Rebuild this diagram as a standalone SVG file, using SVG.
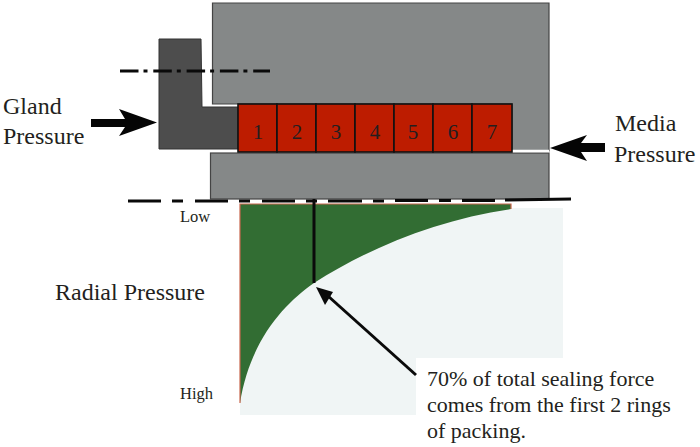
<svg xmlns="http://www.w3.org/2000/svg" width="700" height="447" viewBox="0 0 700 447">
<style>
text{font-family:"Liberation Serif","Times New Roman",serif;fill:#231f20}
.lbl{font-size:24px}
.rad{font-size:24px}
.sm{font-size:16.500px}
.note{font-size:22px}
.num{font-size:21px;text-anchor:middle}
.body{fill:#858888;stroke:#444;stroke-width:1.2}
.ring{fill:#bd1c00;stroke:#111;stroke-width:1.6}
</style>
<rect width="700" height="447" fill="#fff"/>
<g id="chart">
<path d="M240,208H563V358H416V415H240Z" fill="#f0f5f5"/>
<path d="M240,403C250,340 285,303 314,283C370,247 440,219 511,209V204H240Z" fill="#326d33"/>
<path d="M240,403V204H511V209" fill="none" stroke="#c8674f" stroke-width="1.2"/>
</g>
<g id="housing"><path class="body" d="M212.500,3H549V151H512V104H212.500Z"/></g>
<g id="gland"><path d="M159,39H201L202,107H238V149H159Z" fill="#4d4d4d" stroke="#333" stroke-width="1"/></g>
<g id="stem"><rect class="body" x="210.500" y="153" width="338.500" height="46"/></g>
<path d="M512,151H549" stroke="#fff" stroke-width="2.500"/>
<g id="ring1"><rect class="ring" x="238" y="104" width="39" height="48"/><text class="num" x="258" y="139">1</text></g>
<g id="ring2"><rect class="ring" x="277" y="104" width="39" height="48"/><text class="num" x="297" y="139">2</text></g>
<g id="ring3"><rect class="ring" x="316" y="104" width="39" height="48"/><text class="num" x="336" y="139">3</text></g>
<g id="ring4"><rect class="ring" x="355" y="104" width="39" height="48"/><text class="num" x="375" y="139">4</text></g>
<g id="ring5"><rect class="ring" x="394" y="104" width="39" height="48"/><text class="num" x="413" y="139">5</text></g>
<g id="ring6"><rect class="ring" x="433" y="104" width="39" height="48"/><text class="num" x="453" y="139">6</text></g>
<g id="ring7"><rect class="ring" x="472" y="104" width="40" height="48"/><text class="num" x="492" y="139">7</text></g>
<g id="connectors">
<path d="M120,71H270" fill="none" stroke="#0a0a0a" stroke-width="3" stroke-dasharray="18.500 5 4 5.800"/>
<path d="M128,201H161M172,201H183M195,201H228M239,201H250M262,201H295M306,201H317M328,201H362M373,201H384M395,200.500H428M439,200.500H451M462,200.500H495M505,200L571,199" fill="none" stroke="#0a0a0a" stroke-width="3"/>
<path d="M314,199V283" stroke="#0a0a0a" stroke-width="3" fill="none"/>
<path d="M91,119H125L119,109L157,122.500L119,136L125,127H91Z" fill="#050505"/>
<path d="M605,143H581L587,135L550,148L587,161L581,152H605Z" fill="#050505"/>
<path d="M416,375L328,296" stroke="#0a0a0a" stroke-width="3" fill="none"/>
<path d="M316,287L333,292L325,305Z" fill="#0a0a0a"/>
</g>
<g id="labels">
<text class="lbl" x="3" y="114">Gland</text>
<text class="lbl" x="3" y="144">Pressure</text>
<text class="lbl" x="615" y="131">Media</text>
<text class="lbl" x="614" y="162">Pressure</text>
<text class="rad" x="55" y="300">Radial Pressure</text>
<text class="sm" x="180" y="222">Low</text>
<text class="sm" x="180" y="399">High</text>
<text class="note" x="427" y="386">70% of total sealing force</text>
<text class="note" x="427" y="412">comes from the first 2 rings</text>
<text class="note" x="427" y="438">of packing.</text>
</g>
</svg>
